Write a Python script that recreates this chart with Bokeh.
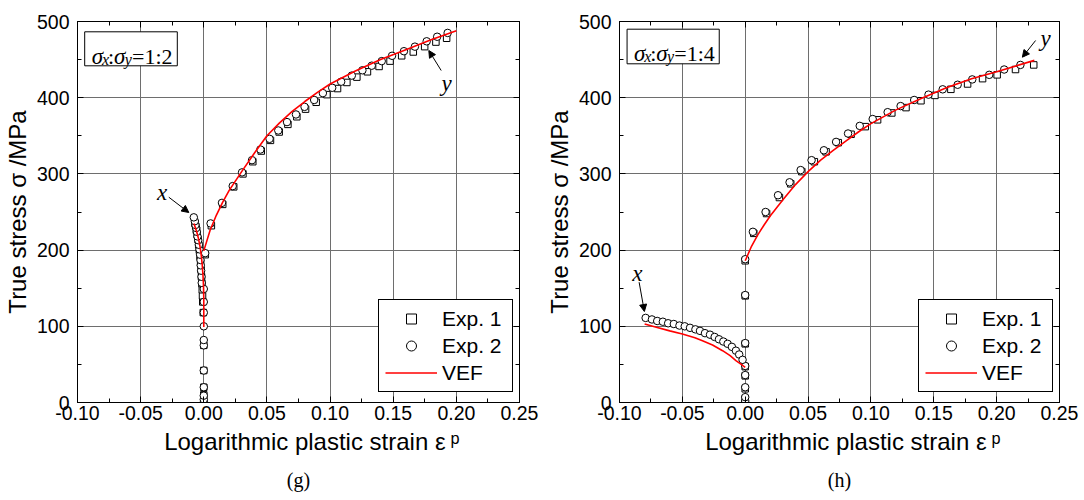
from bokeh.plotting import figure
from bokeh.models import (Range1d, FixedTicker, LinearAxis, Legend, LegendItem, Label, Title,
                          Arrow, NormalHead, BoxAnnotation, ColumnDataSource, CustomJSTickFormatter)
from bokeh.layouts import row
from bokeh.embed import file_html
from bokeh.resources import INLINE

SANS = "Liberation Sans"
SERIF = "Liberation Serif"

# ---------------- axes ----------------
x_ticks = [-0.10, -0.05, 0.00, 0.05, 0.10, 0.15, 0.20, 0.25]
x_tick_labels = ["-0.10", "-0.05", "0.00", "0.05", "0.10", "0.15", "0.20", "0.25"]
y_ticks = [0, 100, 200, 300, 400, 500]
y_tick_labels = ["0", "100", "200", "300", "400", "500"]
x_label = "\u00a0\u00a0\u00a0\u00a0Logarithmic plastic strain \u03b5\u202f\u1d56"
y_label = "True stress \u03c3 /MPa"

# ---------------- panel (g): sigma_x:sigma_y = 1:2 ----------------
g_exp1_eps = [0, 0, 0, 0, 0, -0.0004, -0.0008,
              -0.0010, -0.0012, -0.0015, -0.0018, -0.0021, -0.0025, -0.0030, -0.0035, -0.0040,
              -0.0046, -0.0052, -0.0058, -0.0064, -0.0070,
              0.0012, 0.0060, 0.0150, 0.0237, 0.0310, 0.0388, 0.0455, 0.0528, 0.0597, 0.0666,
              0.0737, 0.0806, 0.0890, 0.0975, 0.1059, 0.1133, 0.1212, 0.1296, 0.1388, 0.1475,
              0.1567, 0.1659, 0.1749, 0.1838, 0.1923]
g_exp1_sig = [0, 10, 20, 42, 75, 118, 132,
              140, 148, 156, 165, 174, 183, 192, 200, 207,
              214, 220, 226, 231, 235,
              194, 232, 260, 283, 300, 316, 330, 344, 355, 365,
              375, 385, 394, 404, 412, 420, 427, 434, 441, 448,
              455, 460, 467, 473, 478]
g_exp2_eps = [0, 0, 0, 0, 0, 0, 0, 0, 0, 0, 0,
              -0.0016, -0.0018, -0.0021, -0.0024, -0.0026, -0.0029, -0.0034, -0.0039, -0.0044,
              -0.0050, -0.0055, -0.0060, -0.0066, -0.0071, -0.0079,
              0.0011, 0.0054, 0.0144, 0.0229, 0.0303, 0.0382, 0.0448, 0.0521, 0.0590, 0.0659,
              0.0730, 0.0798, 0.0874, 0.0943, 0.1017, 0.1088, 0.1172, 0.1256, 0.1330, 0.1409,
              0.1491, 0.1585, 0.1672, 0.1765, 0.1848, 0.1931]
g_exp2_sig = [0, 4, 9, 20, 42, 75, 82, 100, 118, 132, 149,
              157, 165, 173, 180, 187, 194, 201, 207, 213,
              218, 224, 229, 233, 238, 243,
              196, 235, 262, 284, 302, 318, 332, 346, 357, 368,
              378, 388, 397, 406, 413, 421, 429, 436, 442, 448,
              455, 461, 467, 474, 480, 485]
g_vef_x_eps = [0.0, 0.0, -0.0002, -0.0006, -0.0012, -0.0020, -0.0030, -0.0042, -0.0056, -0.0070, -0.0078]
g_vef_x_sig = [99, 135, 152, 166, 180, 193, 205, 215, 224, 231, 235]
g_vef_y_eps = [0.0, 0.005, 0.01, 0.015, 0.02, 0.03, 0.04, 0.05, 0.06, 0.07, 0.08, 0.09,
               0.10, 0.12, 0.14, 0.16, 0.18, 0.20]
g_vef_y_sig = [199, 226, 246, 263, 278, 303, 327, 350, 367, 382, 395, 407,
               418, 435, 450, 463, 476, 488]

# ---------------- panel (h): sigma_x:sigma_y = 1:4 ----------------
h_exp1_eps = [0, 0, 0, 0, 0, 0, 0, 0,
              0.0068, 0.0170, 0.0272, 0.0362, 0.0450, 0.0550, 0.0643, 0.0740, 0.0842, 0.0955,
              0.1053, 0.1166, 0.1279, 0.1398, 0.1509, 0.1636, 0.1769, 0.1888, 0.2004, 0.2150, 0.2295]
h_exp1_sig = [0, 5, 18, 35, 47, 77, 140, 186,
              222, 248, 269, 287, 303, 316, 329, 341, 352, 362,
              371, 380, 387, 396, 403, 411, 418, 425, 430, 437, 443]
h_exp2_eps = [0, 0, 0, 0, 0, 0, 0, 0,
              -0.0792, -0.0742, -0.0700, -0.0655, -0.0613, -0.0568, -0.0523, -0.0481, -0.0439,
              -0.0396, -0.0360, -0.0320, -0.0280, -0.0243, -0.0209, -0.0174, -0.0140, -0.0106,
              -0.0074, -0.0048, -0.0021,
              0.0061, 0.0162, 0.0261, 0.0353, 0.0441, 0.0528, 0.0626, 0.0723, 0.0818, 0.0911,
              0.1014, 0.1133, 0.1236, 0.1344, 0.1458, 0.1571, 0.1690, 0.1806, 0.1941, 0.2060, 0.2189]
h_exp2_sig = [2, 7, 20, 36, 48, 78, 141, 188,
              111, 109, 107, 106, 104, 103, 101, 100, 98,
              96, 94, 91, 89, 86, 83, 80, 77, 73,
              68, 63, 56,
              224, 250, 272, 289, 305, 318, 331, 342, 353, 363,
              372, 381, 389, 397, 404, 411, 417, 424, 430, 437, 443]
h_vef_x_eps = [-0.080, -0.070, -0.060, -0.050, -0.040, -0.034, -0.026, -0.018, -0.012, -0.0074, -0.004, 0.0]
h_vef_x_sig = [103, 98.5, 94, 90, 85, 81, 75.5, 68, 61.5, 55, 51, 46]
h_vef_y_eps = [0.0, 0.005, 0.01, 0.015, 0.02, 0.03, 0.04, 0.05, 0.06, 0.07, 0.08, 0.09,
               0.10, 0.12, 0.14, 0.16, 0.18, 0.20, 0.23]
h_vef_y_sig = [186, 205, 220, 233, 245, 266, 286, 303, 318, 331, 343, 355,
               366, 384, 399, 413, 425, 434, 449]

legend_labels = ["Exp. 1", "Exp. 2", "VEF"]

X0, X1 = x_ticks[0], x_ticks[-1]
Y0, Y1 = y_ticks[0], y_ticks[-1]
FW, FH = 442, 381
TOP = 21


def make_panel(frame_left_abs, border_left, border_right, exp1, exp2, vef_x, vef_y,
               ratio_text, caption, ann):
    def d(px, py):
        # absolute page pixel -> data coordinates of this panel (for annotation placement)
        return (X0 + (px - frame_left_abs) / FW * (X1 - X0),
                Y1 - (py - TOP) / FH * (Y1 - Y0))

    p = figure(width=border_left + FW + border_right, height=500,
               x_range=Range1d(X0, X1), y_range=Range1d(Y0, Y1),
               output_backend="svg", toolbar_location=None,
               min_border_left=border_left, min_border_right=border_right,
               min_border_top=TOP, min_border_bottom=500 - TOP - FH)
    p.outline_line_color = "black"
    p.outline_line_width = 1
    p.background_fill_color = "white"
    p.border_fill_color = "white"

    x_minor = [(a + b) / 2 for a, b in zip(x_ticks[:-1], x_ticks[1:])]
    y_minor = [(a + b) / 2 for a, b in zip(y_ticks[:-1], y_ticks[1:])]
    xt = FixedTicker(ticks=x_ticks, minor_ticks=x_minor)
    yt = FixedTicker(ticks=y_ticks, minor_ticks=y_minor)

    p.xaxis.ticker = xt
    p.yaxis.ticker = yt
    p.xaxis.major_label_overrides = {t: l for t, l in zip(x_ticks, x_tick_labels)}
    p.yaxis.major_label_overrides = {t: l for t, l in zip(y_ticks, y_tick_labels)}
    for ax in (p.xaxis, p.yaxis):
        ax.major_tick_in = 6
        ax.major_tick_out = 0
        ax.minor_tick_in = 4
        ax.minor_tick_out = 0
        ax.axis_line_color = "black"
        ax.major_tick_line_color = "black"
        ax.minor_tick_line_color = "black"
        ax.major_label_text_font = SANS
        ax.major_label_text_font_size = "19.5px"
        ax.major_label_text_color = "black"
        ax.axis_label_text_font = SANS
        ax.axis_label_text_font_style = "normal"
        ax.axis_label_text_font_size = "24px"
        ax.axis_label_text_color = "black"
    p.xaxis.major_label_standoff = 3
    p.yaxis.major_label_standoff = 8
    p.xaxis.axis_label = x_label
    p.yaxis.axis_label = y_label
    p.xaxis.axis_label_standoff = 5
    p.yaxis.axis_label_standoff = 3

    blank = CustomJSTickFormatter(code="return ''")
    for side in ("right", "above"):
        ax = LinearAxis(ticker=yt if side == "right" else xt, formatter=blank,
                        major_tick_in=6, major_tick_out=0, minor_tick_in=4, minor_tick_out=0,
                        axis_line_color="black", major_label_standoff=0)
        p.add_layout(ax, side)

    p.xgrid.ticker = xt
    p.ygrid.ticker = yt
    for g in (p.xgrid, p.ygrid):
        g.grid_line_color = "#6e6e6e"
        g.grid_line_width = 1

    s1 = ColumnDataSource(dict(x=exp1[0], y=exp1[1]))
    s2 = ColumnDataSource(dict(x=exp2[0], y=exp2[1]))
    r1 = p.scatter("x", "y", source=s1, marker="square", size=6.5, fill_color="white",
                   line_color="black", line_width=1)
    r2 = p.scatter("x", "y", source=s2, marker="circle", size=7.5, fill_color="white",
                   line_color="black", line_width=1)
    r3 = p.line(vef_y[0], vef_y[1], line_color="#ff0000", line_width=1.6)
    p.line(vef_x[0], vef_x[1], line_color="#ff0000", line_width=1.6)

    legend = Legend(items=[LegendItem(label=legend_labels[0], renderers=[r1]),
                           LegendItem(label=legend_labels[1], renderers=[r2]),
                           LegendItem(label=legend_labels[2], renderers=[r3])],
                    location=ann["legend"], orientation="vertical",
                    border_line_color="black", border_line_width=1, border_line_alpha=1,
                    background_fill_color="white", background_fill_alpha=1,
                    label_text_font=SANS, label_text_font_size="21px", label_text_color="black",
                    glyph_width=52, glyph_height=25, label_height=25, label_width=64,
                    spacing=2, padding=6, margin=0, label_standoff=5)
    p.add_layout(legend, "center")

    # ratio box
    bl, bt = d(ann["box"][0], ann["box"][1])
    br, bb = d(ann["box"][2], ann["box"][3])
    p.add_layout(BoxAnnotation(left=bl, right=br, top=bt, bottom=bb, fill_color="white",
                               fill_alpha=1, line_color="black", line_alpha=1, line_width=1))
    bx = ann["box"][0]
    pieces = [("\u03c3", 7.0, 55.5, "23px", "italic"),
              ("x", 17.3, 58.5, "16px", "italic"),
              (":", 23.3, 55.5, "22px", "normal"),
              ("\u03c3", 29.2, 55.5, "23px", "italic"),
              ("y", 40.0, 58.5, "16px", "italic"),
              ("=" + ratio_text, 47.4, 55.5, "22px", "normal")]
    dy0 = ann["box"][1] - 31.3
    for txt, ox, by, fs, st in pieces:
        tx, ty = d(bx + ox, by + dy0)
        p.add_layout(Label(x=tx, y=ty, text=txt, text_font=SERIF, text_font_size=fs,
                           text_font_style=st, text_align="left", text_baseline="alphabetic",
                           text_color="black"))

    # x / y markers with arrows
    for lab, (tx_, ty_), (ax0, ay0), (ax1, ay1) in ann["arrows"]:
        tx, ty = d(tx_, ty_)
        p.add_layout(Label(x=tx, y=ty, text=lab, text_font=SERIF, text_font_size="23px",
                           text_font_style="italic", text_align="center", text_baseline="middle",
                           text_color="black"))
        xs, ys = d(ax0, ay0)
        xe, ye = d(ax1, ay1)
        p.add_layout(Arrow(end=NormalHead(size=7, fill_color="black", line_color="black",
                                          line_width=1),
                           x_start=xs, y_start=ys, x_end=xe, y_end=ye,
                           line_color="black", line_width=1))

    p.add_layout(Title(text=caption, align="center", text_font=SERIF, text_font_size="20px",
                       text_font_style="normal", text_color="black", standoff=19), "below")
    return p


ann_g = {"box": (84.2, 31.3, 176.8, 65.3), "legend": (301, 10),
         "arrows": [("x", (161.7, 191.7), (168.3, 196.7), (188.3, 212.0)),
                    ("y", (446.0, 83.0), (440.7, 70.0), (428.3, 50.0))]}
ann_h = {"box": (624.6, 28.7, 717.2, 63.3), "legend": (299, 10),
         "arrows": [("x", (635.0, 273.3), (636.7, 281.7), (642.0, 311.0)),
                    ("y", (1045.0, 38.3), (1035.0, 40.0), (1021.7, 56.7))]}

p1 = make_panel(77, 77, 23, (g_exp1_eps, g_exp1_sig), (g_exp2_eps, g_exp2_sig),
                (g_vef_x_eps, g_vef_x_sig), (g_vef_y_eps, g_vef_y_sig), "1:2", "(g)", ann_g)
p2 = make_panel(617, 75, 25, (h_exp1_eps, h_exp1_sig), (h_exp2_eps, h_exp2_sig),
                (h_vef_x_eps, h_vef_x_sig), (h_vef_y_eps, h_vef_y_sig), "1:4", "(h)", ann_h)

layout = row(p1, p2)
open("out.html", "w").write(file_html(layout, INLINE))
